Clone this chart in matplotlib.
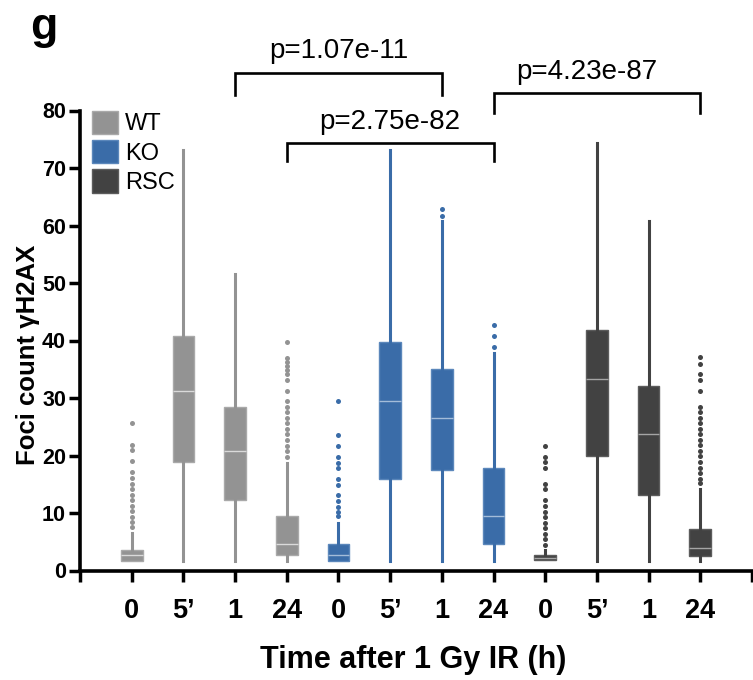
import matplotlib
matplotlib.use("Agg")
from matplotlib import pyplot as plt
from matplotlib.patches import Patch

plt.rcParams["font.family"] = ["Liberation Sans", "DejaVu Sans"]

# data
groups = ["WT", "KO", "RSC"]
group_colors = ["#939393", "#3a6ca8", "#424242"]
edge_colors = ["#a9a9a9", "#5b87bb", "#5c5c5c"]
median_colors = ["#dadada", "#a3bcd9", "#a5a5a5"]
time_labels = ["0", "5\u2019", "1", "24"]

q1 = [1.7, 18.9, 12.3, 2.7, 1.7, 16.0, 17.5, 4.6, 1.8, 19.9, 13.1, 2.6]
medians = [2.7, 31.3, 20.8, 4.6, 2.7, 29.4, 26.5, 9.4, 2.2, 33.3, 23.7, 4.0]
q3 = [3.6, 40.8, 28.4, 9.4, 4.6, 39.8, 35.0, 17.9, 2.7, 41.8, 32.1, 7.3]
whislo = [1.6, 1.7, 1.7, 1.7, 1.7, 1.7, 1.7, 1.7, 1.8, 1.7, 1.7, 1.7]
whishi = [6.5, 73.2, 51.5, 18.7, 8.3, 73.2, 60.8, 37.9, 3.6, 74.3, 60.8, 14.2]

fliers_wt_0 = [7.5, 8.4, 9.3, 10.3, 11.3, 12.2, 13.2, 14.2, 15.1, 16.1, 17.1, 19.0, 21.0, 21.9, 25.6]
fliers_wt_24 = [19.8, 20.8, 21.7, 22.7, 23.7, 24.6, 25.6, 26.6, 27.5, 28.5, 29.4, 31.2,
                33.1, 34.1, 34.9, 35.6, 36.3, 37.0, 39.8]
fliers_ko_0 = [9.4, 10.2, 11.1, 12.1, 13.1, 14.9, 16.0, 17.9, 18.7, 19.8, 21.7, 23.6, 29.4]
fliers_ko_1 = [61.7, 62.9]
fliers_ko_24 = [38.9, 40.8, 42.7]
fliers_rsc_0 = [4.5, 5.5, 6.4, 7.4, 8.3, 9.3, 10.2, 11.3, 12.2, 14.1, 15.0, 17.9, 18.9, 19.8, 21.7]
fliers_rsc_24 = [15.2, 16.0, 17.0, 17.9, 18.9, 19.9, 20.8, 21.8, 22.7, 23.7, 24.6, 25.6,
                 26.6, 27.5, 28.5, 31.2, 33.2, 34.1, 36.0, 37.2]
fliers = [fliers_wt_0, [], [], fliers_wt_24,
          fliers_ko_0, [], fliers_ko_1, fliers_ko_24,
          fliers_rsc_0, [], [], fliers_rsc_24]

# significance brackets: (start box, end box, p text)
brackets = [(3, 7, "p=1.07e-11"), (4, 8, "p=2.75e-82"), (8, 12, "p=4.23e-87")]
bracket_tops = [86.6, 74.3, 83.1]
bracket_legs = [82.7, 71.3, 79.5]
text_y = [90.3, 78.0, 86.7]
text_x = [5.0, 6.0, 9.8]

fig = plt.figure(figsize=(7.53, 6.8), dpi=100)
ax = fig.add_axes([80 / 753, 109.5 / 680, 672 / 753, 460 / 680])

positions = list(range(1, 13))
for i, pos in enumerate(positions):
    g = i // 4
    stats = [dict(med=medians[i], q1=q1[i], q3=q3[i], whislo=whislo[i],
                  whishi=whishi[i], fliers=fliers[i])]
    ax.bxp(stats, positions=[pos], widths=0.42, patch_artist=True, showcaps=False,
           boxprops=dict(facecolor=group_colors[g], edgecolor=edge_colors[g], linewidth=1.0),
           whiskerprops=dict(color=group_colors[g], linewidth=2.2),
           medianprops=dict(color=median_colors[g], linewidth=1.0),
           flierprops=dict(marker="o", markersize=3.6, markerfacecolor=group_colors[g],
                           markeredgecolor="none"))

ax.set_xlim(0, 13)
ax.set_ylim(0, 80)
ax.set_xticks(range(14))
ax.set_xticklabels([""] + time_labels * 3 + [""], fontsize=19.5, fontweight="bold")
ax.set_yticks(range(0, 81, 10))
ax.set_yticklabels([str(v) for v in range(0, 81, 10)], fontsize=15.5, fontweight="bold")
ax.tick_params(axis="x", length=8, width=2.5, pad=12)
ax.tick_params(axis="y", length=8, width=2.5, pad=2)
for side in ["top", "right"]:
    ax.spines[side].set_visible(False)
for side in ["left", "bottom"]:
    ax.spines[side].set_linewidth(2.6)

for (a, b, label), top, leg, tx, ty in zip(brackets, bracket_tops, bracket_legs, text_x, text_y):
    ax.plot([a, a, b, b], [leg, top, top, leg], color="black", linewidth=1.9,
            clip_on=False, solid_joinstyle="miter")
    ax.text(tx, ty, label, ha="center", va="center", fontsize=20, clip_on=False)

handles = [Patch(facecolor=c, edgecolor=e, linewidth=1.0) for c, e in zip(group_colors, edge_colors)]
ax.legend(handles, groups, loc="upper left", bbox_to_anchor=(0.018, 1.0), frameon=False,
          fontsize=17, handlelength=1.1, handleheight=1.15, handletextpad=0.3,
          labelspacing=0.2, borderpad=0, borderaxespad=0)

fig.text(28 / 753, 1 - 355 / 680, "Foci count \u03b3H2AX", rotation=90, ha="center",
         va="center", fontsize=18.5, fontweight="bold")
fig.text(413 / 753, 1 - 660 / 680, "Time after 1 Gy IR (h)", ha="center", va="center",
         fontsize=22, fontweight="bold")
fig.text(44 / 753, 1 - 27 / 680, "g", ha="center", va="center", fontsize=32, fontweight="bold")

fig.savefig("out.png", dpi=100)
